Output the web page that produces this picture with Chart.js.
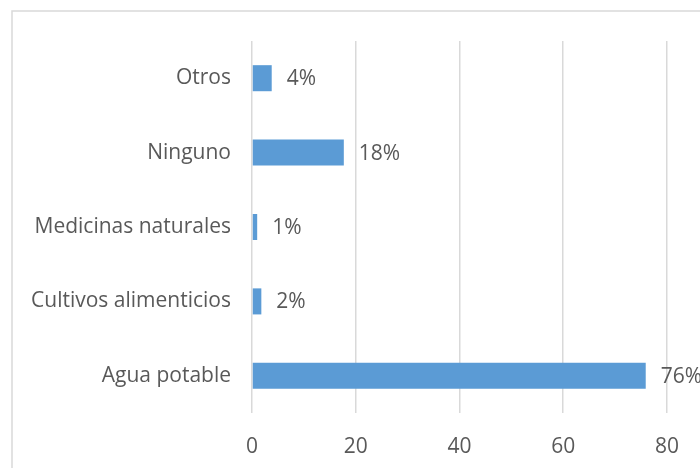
<!DOCTYPE html>
<html>
<head>
<meta charset="utf-8">
<script src="https://cdn.jsdelivr.net/npm/chart.js@4/dist/chart.umd.min.js"></script>
<style>
html,body{margin:0;padding:0;background:#fff;}
#wrap{width:700px;height:468px;position:relative;}
</style>
</head>
<body>
<div id="wrap"><canvas id="c" width="700" height="468"></canvas></div>
<script>
const categories = ["Otros", "Ninguno", "Medicinas naturales", "Cultivos alimenticios", "Agua potable"];
const values = [3.8, 17.7, 1.0, 1.8, 75.9];
const valueLabels = ["4%", "18%", "1%", "2%", "76%"];
const xTicks = [0, 20, 40, 60, 80];

const FONT = "'Open Sans', 'Noto Sans', sans-serif";
const TEXT = "#595959";
const FS = 21;

const borderPlugin = {
  id: 'frame',
  beforeDraw(chart) {
    const ctx = chart.ctx;
    ctx.save();
    ctx.strokeStyle = '#d9d9d9';
    ctx.lineWidth = 1.5;
    ctx.strokeRect(12, 11, 720, 480);
    ctx.restore();
  }
};

const labelPlugin = {
  id: 'vlabels',
  afterDatasetsDraw(chart) {
    const ctx = chart.ctx;
    const meta = chart.getDatasetMeta(0);
    ctx.save();
    ctx.font = FS + "px " + FONT;
    ctx.fillStyle = TEXT;
    ctx.textAlign = 'left';
    ctx.textBaseline = 'middle';
    meta.data.forEach((bar, i) => {
      ctx.fillText(valueLabels[i], bar.x + 15, bar.y + 1);
    });
    ctx.restore();
  }
};

new Chart(document.getElementById('c'), {
  type: 'bar',
  data: {
    labels: categories,
    datasets: [{
      data: values,
      backgroundColor: '#5b9bd5',
      borderWidth: 0,
      categoryPercentage: 1,
      barPercentage: 0.35
    }]
  },
  options: {
    indexAxis: 'y',
    responsive: false,
    animation: false,
    events: [],
    layout: { padding: { left: 0, right: 31, top: 41, bottom: 0 } },
    plugins: { legend: { display: false }, tooltip: { enabled: false } },
    scales: {
      x: {
        min: 0, max: 80,
        afterBuildTicks(axis) { axis.ticks = xTicks.map(v => ({ value: v })); },
        grid: { color: '#d9d9d9', lineWidth: 1.5, drawTicks: false },
        border: { display: false },
        ticks: { color: TEXT, font: { family: FONT, size: FS }, padding: 21 },
        afterFit(axis) { axis.height = 55; }
      },
      y: {
        grid: { display: false, drawTicks: false },
        border: { display: false },
        ticks: { color: TEXT, font: { family: FONT, size: FS }, padding: 21 },
        afterFit(axis) { axis.width = 252; }
      }
    }
  },
  plugins: [borderPlugin, labelPlugin]
});
</script>
</body>
</html>
